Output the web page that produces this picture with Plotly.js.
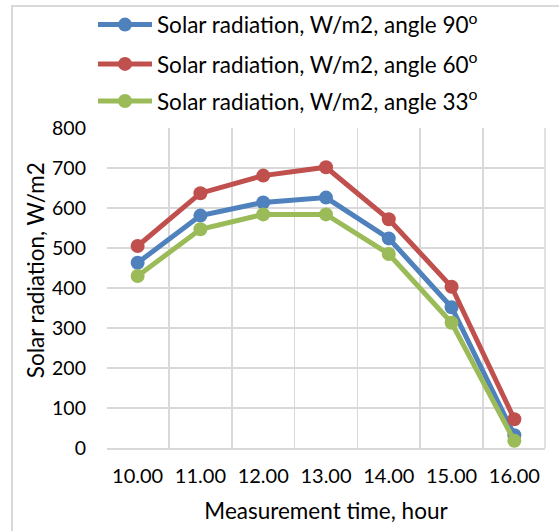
<!DOCTYPE html>
<html>
<head>
<meta charset="utf-8">
<script src="https://cdn.plot.ly/plotly-3.0.1.min.js"></script>
<style>
html,body{margin:0;padding:0;background:#fff;}
#wrap{position:relative;width:559px;height:531px;}
#chart{width:559px;height:531px;}
#frame{position:absolute;left:11px;top:5px;width:560px;height:540px;border-left:2px solid #d9d9d9;border-top:2px solid #d9d9d9;pointer-events:none;}
</style>
</head>
<body>
<div id="wrap"><div id="chart"></div><div id="frame"></div></div>
<script>
const hours = ["10.00","11.00","12.00","13.00","14.00","15.00","16.00"];
const angle90 = [463, 581, 614, 626, 524, 352, 32];
const angle60 = [505, 637, 681, 702, 572, 403, 72];
const angle33 = [430, 547, 584, 584, 485, 313, 18];
const seriesNames = [
  "Solar radiation, W/m2, angle 90<sup>o</sup>",
  "Solar radiation, W/m2, angle 60<sup>o</sup>",
  "Solar radiation, W/m2, angle 33<sup>o</sup>"
];
const colors = ["#4f81bd", "#c0504d", "#9bbb59"];
const yTicks = [0,100,200,300,400,500,600,700,800];

const font = "Lato, 'Liberation Sans', sans-serif";
const legendIds = ["legend", "legend2", "legend3"];
const data = [angle90, angle60, angle33].map((vals, i) => ({
  x: hours, y: vals, name: seriesNames[i], type: "scatter", mode: "lines+markers",
  line: {color: colors[i], width: 5},
  marker: {color: colors[i], size: 14},
  legend: legendIds[i]
}));
function leg(yc) {
  return {x: -0.032, xanchor: "left", y: yc, yref: "container", yanchor: "middle", bgcolor: "rgba(0,0,0,0)",
          font: {size: 22.5, family: font}, itemwidth: 54};
}
const layout = {
  width: 559, height: 531,
  margin: {l: 107, r: 14, t: 128, b: 83, autoexpand: false},
  paper_bgcolor: "#fff", plot_bgcolor: "#fff",
  font: {family: font, color: "#000", size: 20},
  showlegend: true,
  legend: leg(0.953), legend2: leg(0.879), legend3: leg(0.809),
  xaxis: {type: "category", tickson: "boundaries", showgrid: true, gridcolor: "#d9d9d9", gridwidth: 1.5,
          showline: true, linecolor: "#d9d9d9", linewidth: 1.5, ticks: "", ticklen: 0, tickangle: 0,
          tickfont: {size: 20, family: font}, fixedrange: true, zeroline: false, ticklabelstandoff: 9,
          automargin: false,
          title: {text: "Measurement time, hour", font: {size: 22.5, family: font}, standoff: 17}},
  yaxis: {range: [0, 800], tickvals: yTicks, ticktext: yTicks.map(String), showgrid: true,
          gridcolor: "#d9d9d9", gridwidth: 1.5, zeroline: false, showline: false, ticks: "",
          automargin: false,
          tickfont: {size: 19.5, family: font}, ticklabelstandoff: 20},
  annotations: [
    {text: "Solar radiation, W/m2", xref: "paper", yref: "paper", x: -0.164, y: 0.556,
     xanchor: "center", yanchor: "middle", textangle: -90, showarrow: false,
     font: {size: 22.5, family: font, color: "#000"}}
  ],
  shapes: [
    {type: "line", xref: "paper", yref: "paper", x0: 1, x1: 1, y0: 0, y1: 1, line: {color: "#d9d9d9", width: 1.5}}
  ]
};
Plotly.newPlot("chart", data, layout, {displayModeBar: false, staticPlot: true});
</script>
</body>
</html>
